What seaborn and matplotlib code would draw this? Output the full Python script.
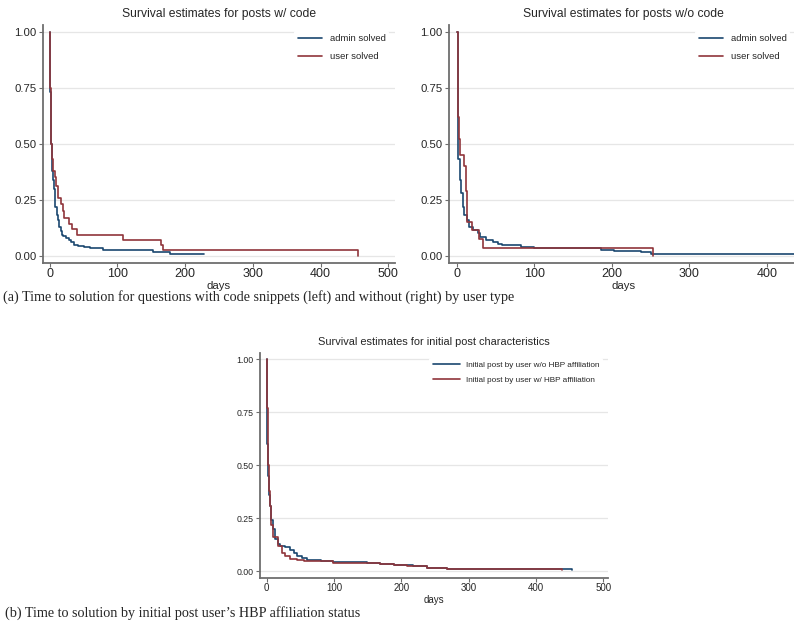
import matplotlib
matplotlib.use("Agg")
import matplotlib.pyplot as plt
import seaborn as sns
import pandas as pd

# Kaplan-Meier step points: (days, survival)
code_admin_t = [0, 1, 2, 3, 4, 5, 6, 7, 8, 10, 12, 14, 16, 18, 20, 24, 28, 32, 36, 42, 50, 60, 70, 79, 153, 177, 228]
code_admin_s = [1.0, 0.73, 0.50, 0.43, 0.38, 0.34, 0.30, 0.26, 0.22, 0.18, 0.16, 0.13, 0.11, 0.095, 0.09, 0.08, 0.07,
                0.06, 0.05, 0.045, 0.04, 0.037, 0.033, 0.025, 0.017, 0.01, 0.007]
code_user_t = [0, 1, 2, 3, 5, 7, 9, 12, 17, 19, 21, 29, 33, 40, 108, 164, 168, 455]
code_user_s = [1.0, 0.75, 0.50, 0.43, 0.38, 0.35, 0.31, 0.26, 0.23, 0.20, 0.167, 0.14, 0.12, 0.095, 0.071, 0.048,
               0.024, 0.0]

nocode_admin_t = [0, 1, 2, 4, 6, 8, 9, 13, 16, 21, 28, 30, 38, 47, 53, 58, 83, 100, 186, 203, 237, 250, 267, 455]
nocode_admin_s = [1.0, 0.50, 0.43, 0.34, 0.28, 0.22, 0.18, 0.16, 0.13, 0.115, 0.10, 0.082, 0.07, 0.06, 0.055, 0.048,
                  0.04, 0.037, 0.028, 0.022, 0.015, 0.01, 0.006, 0.006]
nocode_user_t = [0, 1, 2, 3, 4, 9, 12, 13, 20, 29, 34, 252, 253]
nocode_user_s = [1.0, 0.81, 0.62, 0.52, 0.45, 0.40, 0.29, 0.15, 0.115, 0.077, 0.036, 0.036, 0.0]

nohbp_t = [0, 1, 2, 3, 5, 7, 10, 12, 16, 20, 27, 35, 40, 45, 52, 60, 80, 99, 149, 169, 189, 218, 238, 268, 454]
nohbp_s = [1.0, 0.60, 0.45, 0.36, 0.31, 0.24, 0.20, 0.15, 0.13, 0.118, 0.115, 0.10, 0.086, 0.07, 0.063, 0.055,
           0.047, 0.042, 0.039, 0.036, 0.028, 0.025, 0.017, 0.011, 0.008]
hbp_t = [0, 1, 2, 3, 5, 7, 10, 16, 22, 27, 35, 45, 55, 75, 99, 149, 169, 189, 208, 238, 268, 439]
hbp_s = [1.0, 0.77, 0.50, 0.38, 0.31, 0.22, 0.16, 0.118, 0.086, 0.07, 0.06, 0.055, 0.05, 0.047, 0.039, 0.038, 0.035,
         0.028, 0.024, 0.017, 0.011, 0.008]

y_ticks = [0, 0.25, 0.5, 0.75, 1.0]
y_labels = ["0.00", "0.25", "0.50", "0.75", "1.00"]

NAVY = "#1a476f"
MAROON = "#90353b"

sns.set_theme(style="white")
plt.rcParams["font.family"] = ["Liberation Sans", "DejaVu Sans"]

W, H = 794, 624
fig = plt.figure(figsize=(W / 100, H / 100), dpi=100)


def box(left, top, right, bottom):
    return [left / W, 1 - bottom / H, (right - left) / W, (bottom - top) / H]


def km_panel(ax, series, title, xmax, xticks, sizes, handlelen, leg_anchor=(1, 1), labelpad=0.5):
    fs_tick, fs_ytick, fs_leg, fs_title, fs_lab = sizes
    for t, s, lab, col in series:
        df = pd.DataFrame({"days": t, "surv": s})
        sns.lineplot(data=df, x="days", y="surv", ax=ax, estimator=None, sort=False,
                     drawstyle="steps-post", color=col, lw=1.2, label=lab)
    ax.set_xlim(-10, xmax)
    ax.set_ylim(-0.032, 1.03)
    ax.set_yticks(y_ticks)
    ax.set_yticklabels(y_labels, fontsize=fs_ytick)
    ax.set_xticks(xticks)
    ax.set_xticklabels([str(x) for x in xticks], fontsize=fs_tick)
    ax.yaxis.grid(True, color="#e6e6e6", lw=0.9)
    ax.set_axisbelow(True)
    for side in ["top", "right"]:
        ax.spines[side].set_visible(False)
    for side in ["left", "bottom"]:
        ax.spines[side].set_color("#6e6e6e")
        ax.spines[side].set_linewidth(1.3)
    ax.tick_params(axis="both", direction="out", length=3, width=0.8, color="#6e6e6e", pad=1.5,
                   bottom=True, left=True)
    ax.tick_params(axis="x", pad=0.5)
    ax.set_xlabel("days", fontsize=fs_lab, labelpad=labelpad)
    ax.set_ylabel("")
    ax.set_title(title, fontsize=fs_title, pad=6)
    leg = ax.legend(loc="upper right", bbox_to_anchor=leg_anchor, fontsize=fs_leg, frameon=True,
                    facecolor="white", edgecolor="none", handlelength=handlelen, borderaxespad=0.6,
                    labelspacing=0.9, framealpha=1)
    leg.get_frame().set_linewidth(0)


ax1 = fig.add_axes(box(43, 25, 395, 263))
km_panel(ax1, [(code_admin_t, code_admin_s, "admin solved", NAVY),
               (code_user_t, code_user_s, "user solved", MAROON)],
         "Survival estimates for posts w/ code", 510, [0, 100, 200, 300, 400, 500],
         (9.0, 8.2, 6.8, 8.7, 8.2), 2.6)

ax2 = fig.add_axes(box(449, 25, 798, 263))
km_panel(ax2, [(nocode_admin_t, nocode_admin_s, "admin solved", NAVY),
               (nocode_user_t, nocode_user_s, "user solved", MAROON)],
         "Survival estimates for posts w/o code", 440, [0, 100, 200, 300, 400],
         (9.0, 8.2, 6.8, 8.7, 8.2), 2.6, leg_anchor=(1 - 2 / 349, 1))

ax3 = fig.add_axes(box(260, 353, 608, 578))
km_panel(ax3, [(nohbp_t, nohbp_s, "Initial post by user w/o HBP affiliation", NAVY),
               (hbp_t, hbp_s, "Initial post by user w/ HBP affiliation", MAROON)],
         "Survival estimates for initial post characteristics", 507, [0, 100, 200, 300, 400, 500],
         (7, 6.3, 5.9, 7.9, 7), 3.3, labelpad=1.5)

fig.text(3 / W, 1 - 297.5 / H, "(a) Time to solution for questions with code snippets (left) and without (right) by user type",
         family="Liberation Serif", fontsize=10.2, va="center", ha="left")
fig.text(5 / W, 1 - 613 / H, "(b) Time to solution by initial post user\u2019s HBP affiliation status",
         family="Liberation Serif", fontsize=10.2, va="center", ha="left")

fig.savefig("out.png", dpi=100)
